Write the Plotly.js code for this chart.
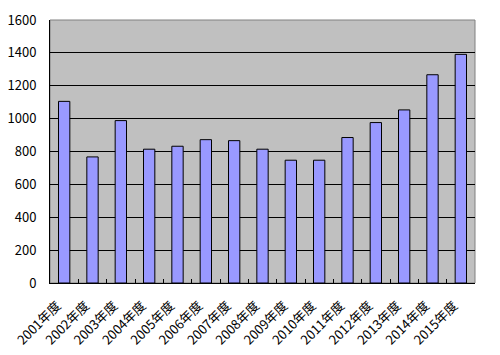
<!DOCTYPE html>
<html><head><meta charset="utf-8">
<script src="https://cdn.plot.ly/plotly-3.0.1.min.js"></script>
<style>html,body{margin:0;padding:0;background:#fff}#chart{width:500px;height:355px}</style>
</head><body><div id="chart"></div>
<script>
const categories = ["2001年度","2002年度","2003年度","2004年度","2005年度","2006年度","2007年度","2008年度","2009年度","2010年度","2011年度","2012年度","2013年度","2014年度","2015年度"];
const values = [1105, 767, 988, 814, 832, 872, 866, 814, 747, 747, 885, 976, 1053, 1267, 1391];
const yTicks = [0, 200, 400, 600, 800, 1000, 1200, 1400, 1600];

const font = {family: "'Noto Sans CJK JP', 'DejaVu Sans', sans-serif", size: 13, color: "#000"};

Plotly.newPlot("chart", [{
  type: "bar",
  x: categories,
  y: values,
  width: 0.4,
  marker: {color: "#9999FF", line: {color: "#000", width: 1}},
  hoverinfo: "none"
}], {
  width: 500, height: 355,
  margin: {l: 50, r: 25, t: 20, b: 72},
  paper_bgcolor: "#fff",
  plot_bgcolor: "#C0C0C0",
  font: font,
  showlegend: false,
  xaxis: {
    type: "category",
    tickangle: -45,
    ticks: "inside", ticklen: 4, tickcolor: "#000",
    tickson: "boundaries",
    ticklabelstandoff: 9,
    ticklabelshift: -7,
    showline: true, linecolor: "#000", linewidth: 1,
    showgrid: false,
    tickfont: font
  },
  yaxis: {
    range: [0, 1600],
    tickvals: yTicks,
    ticktext: yTicks.map(String),
    showgrid: true, gridcolor: "#000", gridwidth: 1,
    showline: true, linecolor: "#000", linewidth: 1,
    ticks: "", ticklabelstandoff: 10,
    zeroline: false,
    tickfont: font
  },
  shapes: [{
    type: "rect", xref: "paper", yref: "paper", x0: 0, x1: 1, y0: 0, y1: 1,
    line: {color: "#808080", width: 1}, fillcolor: "rgba(0,0,0,0)", layer: "below"
  }]
}, {staticPlot: true});
</script></body></html>
